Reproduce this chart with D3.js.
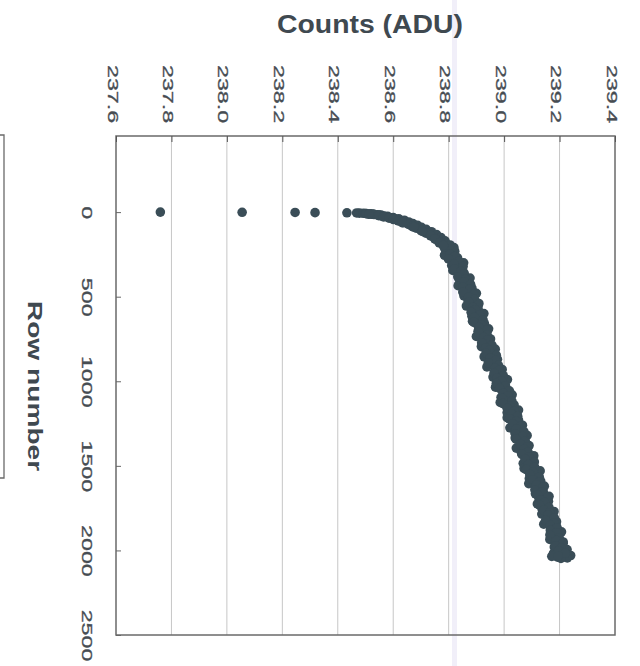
<!DOCTYPE html>
<html>
<head>
<meta charset="utf-8">
<script src="https://cdn.jsdelivr.net/npm/d3@7"></script>
<style>
  body { margin: 0; background: #fff; }
  svg { display: block; font-family: "Liberation Sans", Arial, sans-serif; }
</style>
</head>
<body>
<svg id="chart" width="640" height="666"></svg>
<script>
// axis ticks
var countTicks = [237.6, 237.8, 238.0, 238.2, 238.4, 238.6, 238.8, 239.0, 239.2, 239.4];
var rowTicks = [0, 500, 1000, 1500, 2000, 2500];

// first rows + one pass down the band
var rows = [0, 1, 2, 3, 4, 5, 6, 7, 8, 9, 10, 12, 14, 16, 18, 20, 23, 26, 30, 34, 38, 42, 46, 50,
  55, 60, 65, 70, 75, 80, 86, 92, 98, 105, 112, 120, 128, 136, 145, 155, 165, 176, 188, 200,
  210, 225, 240, 255, 270, 285, 300, 315, 330, 345, 360, 375, 390, 405, 420, 435, 450, 465,
  480, 495, 510, 525, 540, 555, 570, 585, 600, 615, 630, 645, 660, 675, 690, 705, 720, 735,
  750, 765, 780, 795, 810, 825, 840, 855, 870, 885, 900, 915, 930, 945, 960, 975, 990, 1005,
  1020, 1035, 1050, 1065, 1080, 1095, 1110, 1125, 1140, 1155, 1170, 1185, 1200, 1215, 1230,
  1245, 1260, 1275, 1290, 1305, 1320, 1335, 1350, 1365, 1380, 1395, 1410, 1425, 1440, 1455,
  1470, 1485, 1500, 1515, 1530, 1545, 1560, 1575, 1590, 1605, 1620, 1635, 1650, 1665, 1680,
  1695, 1710, 1725, 1740, 1755, 1770, 1785, 1800, 1815, 1830, 1845, 1860, 1875, 1890, 1905,
  1920, 1935, 1950, 1965, 1980, 1995, 2010, 2025, 2040, 2018, 2030, 2035, 2044, 2047];

var counts = [237.760, 238.055, 238.246, 238.318, 238.433, 238.468, 238.478, 238.492, 238.500,
  238.503, 238.516, 238.522, 238.531, 238.543, 238.549, 238.553, 238.566, 238.571, 238.583,
  238.592, 238.603, 238.611, 238.622, 238.628, 238.641, 238.646, 238.652, 238.663, 238.668,
  238.679, 238.684, 238.692, 238.703, 238.708, 238.722, 238.728, 238.741, 238.745, 238.757,
  238.762, 238.773, 238.778, 238.791, 238.794,
  238.819, 238.789, 238.810, 238.785, 238.832, 238.815, 238.854, 238.811, 238.843, 238.815,
  238.855, 238.846, 238.877, 238.840, 238.865, 238.834, 238.884, 238.859, 238.900, 238.855,
  238.880, 238.870, 238.909, 238.864, 238.906, 238.891, 238.927, 238.884, 238.913, 238.886,
  238.929, 238.907, 238.944, 238.906, 238.929, 238.900, 238.951, 238.924, 238.948, 238.918,
  238.968, 238.943, 238.964, 238.928, 238.976, 238.944, 238.966, 238.938, 238.993, 238.965,
  238.992, 238.960, 239.012, 238.974, 238.995, 238.969, 239.008, 238.997, 239.029, 238.989,
  239.017, 238.986, 239.036, 239.010, 239.052, 239.011, 239.032, 239.011, 239.052, 239.033,
  239.066, 239.021, 239.058, 239.039, 239.083, 239.040, 239.076, 239.064, 239.090, 239.044,
  239.081, 239.063, 239.107, 239.077, 239.106, 239.069, 239.106, 239.072, 239.130, 239.093,
  239.110, 239.091, 239.132, 239.089, 239.145, 239.117, 239.141, 239.113, 239.162, 239.126,
  239.160, 239.120, 239.151, 239.137, 239.180, 239.136, 239.170, 239.161, 239.189, 239.143,
  239.189, 239.168, 239.207, 239.166, 239.195, 239.165, 239.213, 239.208, 239.181, 239.227,
  239.200, 239.225, 239.193, 239.178, 239.240, 239.172, 239.228, 239.205];

// second pass down the band (rows in between)
var rows2 = [217, 232, 247, 262, 277, 292, 307, 322, 337, 352, 367, 382, 397, 412, 427, 442,
  457, 472, 487, 502, 517, 532, 547, 562, 577, 592, 607, 622, 637, 652, 667, 682, 697, 712,
  727, 742, 757, 772, 787, 802, 817, 832, 847, 862, 877, 892, 907, 922, 937, 952, 967, 982,
  997, 1012, 1027, 1042, 1057, 1072, 1087, 1102, 1117, 1132, 1147, 1162, 1177, 1192, 1207,
  1222, 1237, 1252, 1267, 1282, 1297, 1312, 1327, 1342, 1357, 1372, 1387, 1402, 1417, 1432,
  1447, 1462, 1477, 1492, 1507, 1522, 1537, 1552, 1567, 1582, 1597, 1612, 1627, 1642, 1657,
  1672, 1687, 1702, 1717, 1732, 1747, 1762, 1777, 1792, 1807, 1822, 1837, 1852, 1867, 1882,
  1897, 1912, 1927, 1942, 1957, 1972, 1987, 2002, 2017, 2032];

var counts2 = [238.788, 238.822, 238.805, 238.823, 238.799, 238.837, 238.819, 238.852, 238.821,
  238.844, 238.856, 238.833, 238.860, 238.856, 238.879, 238.852, 238.876, 238.851, 238.890,
  238.872, 238.894, 238.874, 238.907, 238.887, 238.896, 238.881, 238.911, 238.893, 238.924,
  238.891, 238.919, 238.909, 238.940, 238.909, 238.939, 238.927, 238.940, 238.919, 238.956,
  238.934, 238.947, 238.935, 238.972, 238.950, 238.970, 238.943, 238.980, 238.967, 238.982,
  238.964, 238.997, 238.975, 238.990, 238.972, 239.005, 238.984, 239.019, 238.997, 239.013,
  238.995, 239.028, 238.996, 239.021, 239.013, 239.037, 239.027, 239.049, 239.019, 239.044,
  239.031, 239.059, 239.044, 239.071, 239.041, 239.065, 239.043, 239.074, 239.059, 239.086,
  239.072, 239.086, 239.064, 239.089, 239.076, 239.109, 239.088, 239.110, 239.080, 239.105,
  239.093, 239.127, 239.104, 239.128, 239.117, 239.139, 239.111, 239.136, 239.121, 239.156,
  239.132, 239.147, 239.128, 239.162, 239.143, 239.164, 239.158, 239.181, 239.150, 239.180,
  239.167, 239.191, 239.167, 239.189, 239.166, 239.199, 239.188, 239.213, 239.184, 239.205,
  239.197, 239.220, 239.195];

// extra rows along the bend near the top
var rows3 = [11, 13, 17, 21, 25, 28, 32, 36, 40, 44, 48, 52, 58, 63, 68, 73, 78, 84, 90, 95,
  102, 109, 116, 124, 132, 141, 150, 160, 170, 182, 194, 205,
  62, 88, 114, 138, 158, 178, 196];

var counts3 = [238.528, 238.512, 238.556, 238.548, 238.580, 238.565, 238.600, 238.585, 238.620,
  238.601, 238.640, 238.618, 238.656, 238.638, 238.671, 238.655, 238.688, 238.668, 238.702,
  238.683, 238.719, 238.700, 238.738, 238.718, 238.756, 238.735, 238.772, 238.752, 238.787,
  238.766, 238.805, 238.783,
  238.632, 238.674, 238.705, 238.735, 238.750, 238.770, 238.781];

var svg = d3.select("#chart");
var plotL = 116, plotR = 615, plotT = 136, plotB = 635;
var textCol = "#464c52", dotCol = "#3a4d57";

var x = d3.scaleLinear().domain([237.6, 239.4]).range([plotL, plotR]);
var y = d3.scaleLinear().domain([-450, 2500]).range([plotT, plotB]);

// scan artefact: box edge on the far left
svg.append("path")
    .attr("d", "M0,135H4V478H0")
    .attr("fill", "none")
    .attr("stroke", "#6a6a6a")
    .attr("stroke-width", 1.3);

// scan artefact: faint vertical streak (kept under the marks)
svg.append("rect")
    .attr("x", 452).attr("y", 0)
    .attr("width", 5).attr("height", 666)
    .attr("fill", "#f1eff9");

// grid lines
svg.append("g").selectAll("line")
    .data(countTicks.slice(1, -1))
    .enter().append("line")
    .attr("x1", function(d) { return x(d); })
    .attr("x2", function(d) { return x(d); })
    .attr("y1", plotT)
    .attr("y2", plotB)
    .attr("stroke", "#c6c6c6")
    .attr("stroke-width", 1);

// plot frame
svg.append("rect")
    .attr("x", plotL).attr("y", plotT)
    .attr("width", plotR - plotL).attr("height", plotB - plotT)
    .attr("fill", "none")
    .attr("stroke", "#6a6a6a")
    .attr("stroke-width", 1.5);

// counts axis along the top, labels turned a quarter
var xAxis = svg.append("g")
    .attr("transform", "translate(0," + plotT + ")")
    .call(d3.axisTop(x).tickValues(countTicks).tickFormat(d3.format(".1f")).tickSize(-6));
xAxis.select(".domain").remove();
xAxis.selectAll("line").attr("stroke", "#555");
xAxis.selectAll("text")
    .attr("x", 0).attr("y", 0).attr("dy", null)
    .attr("text-anchor", "start")
    .attr("transform", "translate(-9," + (65 - plotT) + ") rotate(90) scale(1.55,1)")
    .attr("fill", textCol)
    .attr("stroke", textCol)
    .attr("stroke-width", 0.3)
    .style("font-size", "15px");

// row axis on the left
var yAxis = svg.append("g")
    .attr("transform", "translate(" + plotL + ",0)")
    .call(d3.axisLeft(y).tickValues(rowTicks).tickFormat(d3.format("d")).tickSize(-5));
yAxis.select(".domain").remove();
yAxis.selectAll("line").attr("stroke", "#666");
yAxis.selectAll("text")
    .attr("x", 0).attr("y", 0).attr("dy", null)
    .attr("text-anchor", "middle")
    .attr("transform", "translate(-34,0) rotate(90) scale(1.55,1)")
    .attr("fill", textCol)
    .attr("stroke", textCol)
    .attr("stroke-width", 0.3)
    .style("font-size", "15px");

// titles
svg.append("text")
    .attr("x", 370).attr("y", 33)
    .attr("text-anchor", "middle")
    .attr("textLength", 186)
    .attr("lengthAdjust", "spacingAndGlyphs")
    .attr("fill", "#3f4950")
    .style("font-size", "25px")
    .style("font-weight", "bold")
    .text("Counts (ADU)");

svg.append("text")
    .attr("text-anchor", "middle")
    .attr("transform", "translate(28,386) rotate(90) scale(1.34,1)")
    .attr("fill", "#3f4950")
    .style("font-size", "21px")
    .style("font-weight", "bold")
    .text("Row number");

// points
var pts = [];
[[rows, counts], [rows2, counts2], [rows3, counts3]].forEach(function(s) {
  s[0].forEach(function(r, i) { pts.push({row: r, count: s[1][i]}); });
});

svg.append("g").selectAll("circle")
    .data(pts)
    .enter().append("circle")
    .attr("cx", function(d) { return x(d.count); })
    .attr("cy", function(d) { return y(d.row); })
    .attr("r", 4.8)
    .attr("fill", dotCol);
</script>
</body>
</html>
